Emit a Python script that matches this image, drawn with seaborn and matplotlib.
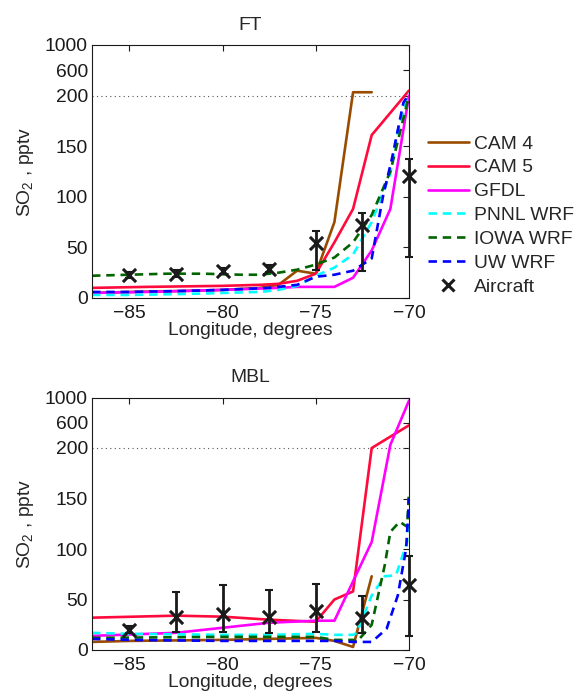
import numpy as np
import pandas as pd
import matplotlib
matplotlib.use("Agg")
import matplotlib.pyplot as plt
import seaborn as sns
from matplotlib.lines import Line2D

# ---------------- data ----------------
models = ["CAM 4", "CAM 5", "GFDL", "PNNL WRF", "IOWA WRF", "UW WRF"]

# FT panel
ft_cam4_lon = [-87, -85, -82, -80, -78, -77, -76, -75, -74, -73, -72]
ft_cam4_val = [5, 6, 7, 8, 10, 13, 27, 24, 75, 253, 253]
ft_cam5_lon = [-87, -84, -80, -78, -77, -76, -75, -74, -73, -72, -70]
ft_cam5_val = [10, 11, 12, 13, 14, 17, 24, 55, 88, 161, 280]
ft_gfdl_lon = [-87, -84, -80, -77, -76, -75, -74, -73, -72, -71, -70]
ft_gfdl_val = [5, 6, 8, 10, 11, 11, 11, 20, 47, 88, 200]
ft_pnnl_lon = [-87, -85, -82, -80, -78, -77, -76, -75, -74, -73, -72, -71, -70.6, -70]
ft_pnnl_val = [3, 3, 4, 5, 6, 8, 12, 22, 30, 43, 75, 123, 165, 245]
ft_iowa_lon = [-87, -85, -83, -81, -79, -78, -77, -76, -75, -74, -73, -72, -71, -70]
ft_iowa_val = [22, 23, 24, 24, 23, 23, 25, 28, 33, 40, 55, 82, 125, 200]
ft_uw_lon = [-87, -85, -82, -80, -77.5, -76, -75, -74, -73, -72, -71.4, -70.9, -70.3, -70]
ft_uw_val = [6, 6, 7, 8, 10, 13, 21, 23, 27, 39, 100, 139, 193, 227]

ac_lon = [-85, -82.5, -80, -77.5, -75, -72.5, -70]
ft_ac_val = [23, 24, 27, 29, 54, 72, 121]
ft_ac_lo = [20, 21, 24, 26, 28, 27, 41]
ft_ac_hi = [26, 28, 30, 33, 66, 84, 137]

# MBL panel
mbl_cam4_lon = [-87, -85, -80, -75, -74, -73, -72]
mbl_cam4_val = [8, 9, 10, 12, 9, 3, 73]
mbl_cam5_lon = [-87, -82.5, -80, -77.5, -75, -74, -73, -72, -70]
mbl_cam5_val = [32, 34, 33, 30, 28, 50, 58, 200, 560]
mbl_gfdl_lon = [-87, -82.5, -80, -77.5, -75, -74, -72, -71, -70]
mbl_gfdl_val = [14, 17, 22, 27, 29, 29, 107, 250, 950]
mbl_pnnl_lon = [-87, -85, -80, -77.5, -75, -74, -73, -72.8, -72, -71.3, -70.7, -70.1, -70]
mbl_pnnl_val = [17, 16, 15, 15, 16, 15, 15, 17, 54, 73, 74, 107, 147]
mbl_iowa_lon = [-87, -80, -75, -74, -73, -72.8, -72, -71.3, -71, -70.5, -70.1, -70]
mbl_iowa_val = [12, 13, 13, 10, 10, 8, 25, 84, 117, 127, 122, 157]
mbl_uw_lon = [-87, -85, -80, -75, -74, -73, -72, -71.2, -70.6, -70.15, -70]
mbl_uw_val = [11, 10, 9, 9, 9, 8, 8, 21, 54, 101, 150]

mbl_ac_val = [20, 33, 36, 33, 39, 32, 64]
mbl_ac_lo = [17, 18, 18, 17, 18, 17, 14]
mbl_ac_hi = [24, 57, 64, 59, 65, 53, 93]

yticks = [0, 50, 100, 150, 200, 600, 1000]
xticks = [-85, -80, -75, -70]

# ---------------- style ----------------
sns.set_theme(style="white")
plt.rcParams["font.family"] = ["Liberation Sans", "DejaVu Sans"]
plt.rcParams["mathtext.fontset"] = "custom"
plt.rcParams["mathtext.rm"] = "Liberation Sans"
plt.rcParams["mathtext.it"] = "Liberation Sans:italic"
FS = 13.9

colors = {"CAM 4": "#994C00", "CAM 5": "#FF0A3C", "GFDL": "#FF00FF",
          "PNNL WRF": "#00FFFF", "IOWA WRF": "#006400", "UW WRF": "#0000FF"}
DASH = (0, (3.2, 2.2))
styles = {"CAM 4": "-", "CAM 5": "-", "GFDL": "-",
          "PNNL WRF": DASH, "IOWA WRF": DASH, "UW WRF": DASH}

BREAK = 200.0
FACTOR = 16.0


def fwd(y):
    y = np.asarray(y, dtype=float)
    return np.where(y <= BREAK, y, BREAK + (y - BREAK) / FACTOR)


def inv(y):
    y = np.asarray(y, dtype=float)
    return np.where(y <= BREAK, y, BREAK + (y - BREAK) * FACTOR)


fig = plt.figure(figsize=(5.81, 6.94), dpi=100)
ax1 = fig.add_axes([92 / 581, 1 - 298 / 694, 317 / 581, 253 / 694])
ax2 = fig.add_axes([92 / 581, 1 - 650 / 694, 317 / 581, 252.5 / 694])

panels = [
    (ax1, "FT",
     [(ft_cam4_lon, ft_cam4_val), (ft_cam5_lon, ft_cam5_val), (ft_gfdl_lon, ft_gfdl_val),
      (ft_pnnl_lon, ft_pnnl_val), (ft_iowa_lon, ft_iowa_val), (ft_uw_lon, ft_uw_val)],
     ft_ac_val, ft_ac_lo, ft_ac_hi),
    (ax2, "MBL",
     [(mbl_cam4_lon, mbl_cam4_val), (mbl_cam5_lon, mbl_cam5_val), (mbl_gfdl_lon, mbl_gfdl_val),
      (mbl_pnnl_lon, mbl_pnnl_val), (mbl_iowa_lon, mbl_iowa_val), (mbl_uw_lon, mbl_uw_val)],
     mbl_ac_val, mbl_ac_lo, mbl_ac_hi),
]

for ax, title, series, acv, aclo, achi in panels:
    ax.set_yscale("function", functions=(fwd, inv))
    ax.axhline(200, color="#555555", ls=(0, (1, 3)), lw=0.8, zorder=1)
    for name, (lon, val) in zip(models, series):
        df = pd.DataFrame({"lon": lon, "val": val})
        sns.lineplot(data=df, x="lon", y="val", ax=ax, color=colors[name],
                     linestyle=styles[name], lw=1.9, sort=False,
                     errorbar=None, legend=False)
    acv = np.array(acv, float)
    yerr = [acv - np.array(aclo), np.array(achi) - acv]
    ax.errorbar(ac_lon, acv, yerr=yerr, fmt="none", ecolor="k", elinewidth=2.0,
                capsize=3, capthick=1.5, zorder=5, clip_on=False)
    sns.scatterplot(x=ac_lon, y=acv, ax=ax, marker="x", s=90, color="k",
                    linewidth=2.2, zorder=6, clip_on=False, legend=False)
    ax.set_xlim(-87, -70)
    ax.set_ylim(0, 1000)
    ax.set_yticks(yticks)
    ax.set_yticklabels([str(t) for t in yticks])
    ax.set_xticks(xticks)
    ax.minorticks_off()
    ax.tick_params(direction="in", length=4, width=0.8, top=True, right=True,
                   labelsize=FS, colors="k")
    ax.tick_params(axis="x", pad=5)
    ax.tick_params(axis="y", pad=3)
    for s in ax.spines.values():
        s.set_color("k")
        s.set_linewidth(0.8)
    ax.set_title(title, fontsize=FS, pad=11)
    ax.set_xlabel("Longitude, degrees", fontsize=FS, labelpad=0)
    ax.set_ylabel(r"SO$_{\mathregular{2}}$ , pptv", fontsize=FS, labelpad=6)

# legend
handles = [Line2D([], [], color=colors[m], linestyle=styles[m], lw=1.9) for m in models]
handles.append(Line2D([], [], color="k", marker="x", ls="none", ms=8, mew=2.2))
labels = models + ["Aircraft"]
fig.legend(handles, labels, loc="upper left", bbox_to_anchor=(428 / 581, 1 - 135 / 694),
           frameon=False, fontsize=FS, handlelength=2.1, handletextpad=0.3,
           labelspacing=0.33, borderpad=0, borderaxespad=0)

fig.savefig("out.png", dpi=100)
